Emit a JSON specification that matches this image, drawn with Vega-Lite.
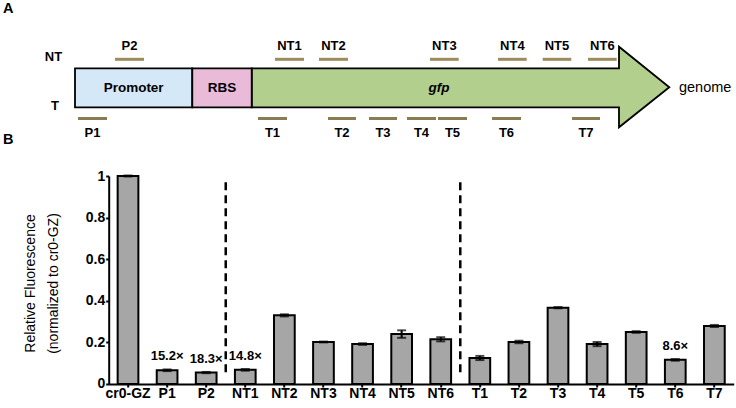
{
  "$schema": "https://vega.github.io/schema/vega-lite/v6.json",
  "autosize": "none",
  "padding": {"left": 108.7, "top": 0, "right": 2, "bottom": 24},
  "width": 625,
  "height": 384,
  "config": {"view": {"stroke": null}, "font": "Liberation Sans"},
  "datasets": {
    "bars": [
      {"name": "cr0-GZ", "value": 1.0, "err": 0.003, "fold": "", "divider": false},
      {"name": "P1", "value": 0.066, "err": 0.004, "fold": "15.2×", "divider": false},
      {"name": "P2", "value": 0.055, "err": 0.003, "fold": "18.3×", "divider": false},
      {"name": "NT1", "value": 0.068, "err": 0.004, "fold": "14.8×", "divider": true},
      {"name": "NT2", "value": 0.33, "err": 0.005, "fold": "", "divider": false},
      {"name": "NT3", "value": 0.202, "err": 0.002, "fold": "", "divider": false},
      {"name": "NT4", "value": 0.192, "err": 0.004, "fold": "", "divider": false},
      {"name": "NT5", "value": 0.24, "err": 0.018, "fold": "", "divider": false},
      {"name": "NT6", "value": 0.215, "err": 0.01, "fold": "", "divider": false},
      {"name": "T1", "value": 0.125, "err": 0.01, "fold": "", "divider": true},
      {"name": "T2", "value": 0.202, "err": 0.006, "fold": "", "divider": false},
      {"name": "T3", "value": 0.367, "err": 0.003, "fold": "", "divider": false},
      {"name": "T4", "value": 0.192, "err": 0.01, "fold": "", "divider": false},
      {"name": "T5", "value": 0.25, "err": 0.004, "fold": "", "divider": false},
      {"name": "T6", "value": 0.116, "err": 0.004, "fold": "8.6×", "divider": false},
      {"name": "T7", "value": 0.279, "err": 0.005, "fold": "", "divider": false}
    ],
    "guides": [
      {"name": "P2", "strand": "NT", "start": 115, "end": 144},
      {"name": "NT1", "strand": "NT", "start": 275, "end": 304},
      {"name": "NT2", "strand": "NT", "start": 319, "end": 348},
      {"name": "NT3", "strand": "NT", "start": 430, "end": 458.7},
      {"name": "NT4", "strand": "NT", "start": 498, "end": 526.7},
      {"name": "NT5", "strand": "NT", "start": 542.7, "end": 571.3},
      {"name": "NT6", "strand": "NT", "start": 588, "end": 616.7},
      {"name": "P1", "strand": "T", "start": 78, "end": 107},
      {"name": "T1", "strand": "T", "start": 258, "end": 287},
      {"name": "T2", "strand": "T", "start": 328, "end": 356},
      {"name": "T3", "strand": "T", "start": 369, "end": 397},
      {"name": "T4", "strand": "T", "start": 407, "end": 436},
      {"name": "T5", "strand": "T", "start": 438, "end": 467},
      {"name": "T6", "strand": "T", "start": 492, "end": 521},
      {"name": "T7", "strand": "T", "start": 572, "end": 600}
    ],
    "parts": [
      {"part": "Promoter", "start": 75, "end": 192.3},
      {"part": "RBS", "start": 192.3, "end": 251.7}
    ],
    "arrow": [
      {"x": 251.7, "top": 68.3, "bottom": 107.3},
      {"x": 619, "top": 68.3, "bottom": 107.3},
      {"x": 619.01, "top": 46.7, "bottom": 127.3},
      {"x": 669.3, "top": 87.3, "bottom": 87.3}
    ]
  },
  "layer": [
    {
      "layer": [
        {
          "data": {"name": "arrow"},
          "mark": {"type": "area", "fill": "#b2cf8e", "stroke": "black", "strokeWidth": 1.8, "strokeJoin": "miter"},
          "encoding": {
            "x": {"field": "x", "type": "quantitative", "scale": {"domain": [108.7, 733.7], "zero": false, "nice": false}, "axis": null},
            "y": {"field": "top", "type": "quantitative", "scale": {"domain": [0, 384], "reverse": true, "zero": false, "nice": false}, "axis": null},
            "y2": {"field": "bottom"}
          }
        },
        {
          "data": {"name": "parts"},
          "mark": {"type": "rect", "stroke": "black", "strokeWidth": 1.8},
          "encoding": {
            "x": {"field": "start", "type": "quantitative", "scale": {"domain": [108.7, 733.7], "zero": false, "nice": false}, "axis": null},
            "x2": {"field": "end"},
            "y": {"datum": 68.3, "type": "quantitative", "scale": {"domain": [0, 384], "reverse": true, "zero": false, "nice": false}, "axis": null},
            "y2": {"datum": 107.3},
            "fill": {"field": "part", "type": "nominal", "scale": {"domain": ["Promoter", "RBS"], "range": ["#d5e8f8", "#eabbd9"]}, "legend": null}
          }
        },
        {
          "data": {"name": "parts"},
          "transform": [{"calculate": "(datum.start + datum.end) / 2", "as": "mid"}],
          "mark": {"type": "text", "fontWeight": "bold", "fontSize": 13.5, "baseline": "middle", "align": "center", "color": "black"},
          "encoding": {
            "x": {"field": "mid", "type": "quantitative", "scale": {"domain": [108.7, 733.7], "zero": false, "nice": false}, "axis": null},
            "y": {"datum": 87.5, "type": "quantitative", "scale": {"domain": [0, 384], "reverse": true, "zero": false, "nice": false}, "axis": null},
            "text": {"field": "part"}
          }
        },
        {
          "data": {"values": [{}]},
          "mark": {"type": "text", "fontWeight": "bold", "fontStyle": "italic", "fontSize": 13.5, "baseline": "middle", "align": "center", "color": "black"},
          "encoding": {
            "x": {"datum": 439, "type": "quantitative", "scale": {"domain": [108.7, 733.7], "zero": false, "nice": false}, "axis": null},
            "y": {"datum": 87.5, "type": "quantitative", "scale": {"domain": [0, 384], "reverse": true, "zero": false, "nice": false}, "axis": null},
            "text": {"value": "gfp"}
          }
        },
        {
          "data": {"values": [{}]},
          "mark": {"type": "text", "fontSize": 14.5, "baseline": "middle", "align": "left", "color": "black"},
          "encoding": {
            "x": {"datum": 679, "type": "quantitative", "scale": {"domain": [108.7, 733.7], "zero": false, "nice": false}, "axis": null},
            "y": {"datum": 87.5, "type": "quantitative", "scale": {"domain": [0, 384], "reverse": true, "zero": false, "nice": false}, "axis": null},
            "text": {"value": "genome"}
          }
        },
        {
          "data": {"values": [{}]},
          "mark": {"type": "text", "fontWeight": "bold", "fontSize": 13, "baseline": "middle", "align": "center", "color": "black"},
          "encoding": {
            "x": {"datum": 53.5, "type": "quantitative", "scale": {"domain": [108.7, 733.7], "zero": false, "nice": false}, "axis": null},
            "y": {"datum": 57.3, "type": "quantitative", "scale": {"domain": [0, 384], "reverse": true, "zero": false, "nice": false}, "axis": null},
            "text": {"value": "NT"}
          }
        },
        {
          "data": {"values": [{}]},
          "mark": {"type": "text", "fontWeight": "bold", "fontSize": 13, "baseline": "middle", "align": "center", "color": "black"},
          "encoding": {
            "x": {"datum": 55, "type": "quantitative", "scale": {"domain": [108.7, 733.7], "zero": false, "nice": false}, "axis": null},
            "y": {"datum": 106, "type": "quantitative", "scale": {"domain": [0, 384], "reverse": true, "zero": false, "nice": false}, "axis": null},
            "text": {"value": "T"}
          }
        },
        {
          "data": {"values": [{}]},
          "mark": {"type": "text", "fontWeight": "bold", "fontSize": 14.5, "baseline": "middle", "align": "left", "color": "black"},
          "encoding": {
            "x": {"datum": 3, "type": "quantitative", "scale": {"domain": [108.7, 733.7], "zero": false, "nice": false}, "axis": null},
            "y": {"datum": 9, "type": "quantitative", "scale": {"domain": [0, 384], "reverse": true, "zero": false, "nice": false}, "axis": null},
            "text": {"value": "A"}
          }
        },
        {
          "data": {"values": [{}]},
          "mark": {"type": "text", "fontWeight": "bold", "fontSize": 14.5, "baseline": "middle", "align": "left", "color": "black"},
          "encoding": {
            "x": {"datum": 3, "type": "quantitative", "scale": {"domain": [108.7, 733.7], "zero": false, "nice": false}, "axis": null},
            "y": {"datum": 140, "type": "quantitative", "scale": {"domain": [0, 384], "reverse": true, "zero": false, "nice": false}, "axis": null},
            "text": {"value": "B"}
          }
        },
        {
          "data": {"name": "guides"},
          "transform": [{"filter": "datum.strand === 'NT'"}],
          "mark": {"type": "rule", "color": "#9d8a5d", "strokeWidth": 3},
          "encoding": {
            "x": {"field": "start", "type": "quantitative", "scale": {"domain": [108.7, 733.7], "zero": false, "nice": false}, "axis": null},
            "x2": {"field": "end"},
            "y": {"datum": 59.3, "type": "quantitative", "scale": {"domain": [0, 384], "reverse": true, "zero": false, "nice": false}, "axis": null}
          }
        },
        {
          "data": {"name": "guides"},
          "transform": [{"filter": "datum.strand === 'T'"}],
          "mark": {"type": "rule", "color": "#8c7a52", "strokeWidth": 3},
          "encoding": {
            "x": {"field": "start", "type": "quantitative", "scale": {"domain": [108.7, 733.7], "zero": false, "nice": false}, "axis": null},
            "x2": {"field": "end"},
            "y": {"datum": 118.5, "type": "quantitative", "scale": {"domain": [0, 384], "reverse": true, "zero": false, "nice": false}, "axis": null}
          }
        },
        {
          "data": {"name": "guides"},
          "transform": [{"filter": "datum.strand === 'NT'"}, {"calculate": "(datum.start + datum.end) / 2", "as": "mid"}],
          "mark": {"type": "text", "fontWeight": "bold", "fontSize": 13, "baseline": "middle", "align": "center", "color": "black"},
          "encoding": {
            "x": {"field": "mid", "type": "quantitative", "scale": {"domain": [108.7, 733.7], "zero": false, "nice": false}, "axis": null},
            "y": {"datum": 45.7, "type": "quantitative", "scale": {"domain": [0, 384], "reverse": true, "zero": false, "nice": false}, "axis": null},
            "text": {"field": "name"}
          }
        },
        {
          "data": {"name": "guides"},
          "transform": [{"filter": "datum.strand === 'T'"}, {"calculate": "(datum.start + datum.end) / 2", "as": "mid"}],
          "mark": {"type": "text", "fontWeight": "bold", "fontSize": 13, "baseline": "middle", "align": "center", "color": "black"},
          "encoding": {
            "x": {"field": "mid", "type": "quantitative", "scale": {"domain": [108.7, 733.7], "zero": false, "nice": false}, "axis": null},
            "y": {"datum": 133.3, "type": "quantitative", "scale": {"domain": [0, 384], "reverse": true, "zero": false, "nice": false}, "axis": null},
            "text": {"field": "name"}
          }
        }
      ]
    },
    {
      "data": {"name": "bars"},
      "encoding": {
        "x": {
          "field": "name", "type": "nominal",
          "scale": {"domain": ["cr0-GZ", "P1", "P2", "NT1", "NT2", "NT3", "NT4", "NT5", "NT6", "T1", "T2", "T3", "T4", "T5", "T6", "T7"], "paddingInner": 0.47, "paddingOuter": 0.229},
          "axis": {"title": null, "orient": "bottom", "labelAngle": 0, "labelFont": "Liberation Sans", "labelFontSize": 14, "labelFontWeight": "bold", "labelColor": "black", "labelPadding": 0, "tickSize": 3, "tickWidth": 2, "tickColor": "black", "domainColor": "black", "domainWidth": 2}
        },
        "y": {
          "field": "value", "type": "quantitative",
          "scale": {"domain": [0, 1], "range": [384, 176], "nice": false, "zero": true},
          "axis": {
            "orient": "left",
            "title": ["Relative Fluorescence", "(normalized to cr0-GZ)"],
            "titleFont": "Liberation Sans", "titleFontSize": 14, "titleFontWeight": "normal", "titleColor": "black", "titleLineHeight": 23,
            "titleX": -78, "titleY": 283, "titleBaseline": "middle", "titleAlign": "center", "titleAngle": -90,
            "values": [0, 0.2, 0.4, 0.6, 0.8, 1], "format": "~g",
            "labelFont": "Liberation Sans", "labelFontSize": 14, "labelFontWeight": "bold", "labelColor": "black", "labelPadding": 1,
            "tickSize": 3, "tickWidth": 2, "tickColor": "black", "domainColor": "black", "domainWidth": 2, "grid": false
          }
        }
      },
      "layer": [
        {"mark": {"type": "bar", "fill": "#a6a6a6", "stroke": "black", "strokeWidth": 2}},
        {
          "mark": {"type": "errorbar", "color": "black", "thickness": 2, "ticks": {"size": 9, "thickness": 2, "color": "black"}},
          "encoding": {"yError": {"field": "err"}}
        },
        {
          "transform": [{"filter": "datum.fold !== ''"}],
          "mark": {"type": "text", "fontWeight": "bold", "fontSize": 13, "baseline": "middle", "align": "center", "dy": -14, "color": "black"},
          "encoding": {"text": {"field": "fold"}}
        },
        {
          "transform": [{"filter": "datum.divider"}],
          "mark": {"type": "rule", "color": "black", "strokeWidth": 2.5, "strokeDash": [8, 5], "xOffset": -19.55},
          "encoding": {
            "y": {"datum": 0.97, "type": "quantitative"},
            "y2": {"datum": 0.053}
          }
        }
      ]
    }
  ],
  "resolve": {"scale": {"x": "independent", "y": "independent"}}
}
